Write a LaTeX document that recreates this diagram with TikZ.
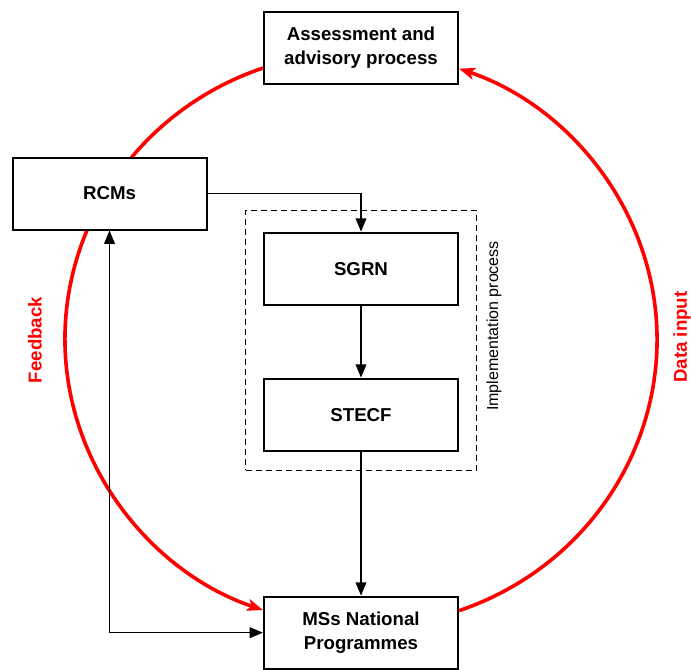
\documentclass[tikz,border=0pt]{standalone}
\usepackage{fontspec}
\setmainfont{Liberation Sans}
\usepackage{tikz}
\usetikzlibrary{arrows.meta,positioning,fit,backgrounds}

\tikzset{
    box/.style={draw, fill=white, line width=1.5pt, minimum width=145.5pt, minimum height=54pt,
        align=center, font=\fontsize{14}{18}\selectfont\bfseries},
    redline/.style={draw=red, line width=2.7pt, -{Stealth[length=12pt,width=9pt,inset=3pt]}},
    side/.style={text=red, rotate=90, inner sep=1pt, font=\fontsize{14}{18}\selectfont\bfseries}
}

\begin{document}
\begin{tikzpicture}[x=0.75pt, y=0.75pt, >={Triangle[length=10pt,width=8pt]}, line width=1.2pt]
    \useasboundingbox (0,0) rectangle (691,669);

    % Nodes {assess, rcms, sgrn, stecf, msnp}
    \node [box] (assess) at (361,621)         {Assessment and\\advisory process};
    \node [box] (rcms)   at (109.5,475.5)     {RCMs};
    \node [box] (sgrn)   [below=110pt of assess] {SGRN};
    \node [box] (stecf)  [below=54pt of sgrn]    {STECF};
    \node [box] (msnp)   [below=108pt of stecf]  {MSs National\\Programmes};

    % Implementation box and labels
    \node [draw, dashed, dash pattern=on 4.5pt off 3pt, line width=0.8pt,
           inner xsep=13pt, inner ysep=15pt, yshift=1.2pt, fit=(sgrn)(stecf)] (impl) {};
    \node [rotate=90, font=\fontsize{12}{14}\selectfont] (impltxt) at (494,343) {Implementation process};
    \node [side] (fb) at (35,329)  {Feedback};
    \node [side] (di) at (682,332) {Data input};

    % Paths
    \draw [->]  (rcms.east) -| (sgrn.north);
    \draw [->]  (sgrn) -- (stecf);
    \draw [->]  (stecf) -- (msnp);
    \draw [<->] (rcms.south) |- (msnp.west);

    % Red cycle
    \begin{scope}[on background layer]
    \draw [redline] ([yshift=-15pt]assess.west) arc[start angle=109.2, delta angle=141.6, x radius=221.25pt, y radius=215.25pt];
    \draw [redline] ([yshift=16.5pt]msnp.east) arc[start angle=-70.8, delta angle=141.6, x radius=221.25pt, y radius=215.25pt];
    \end{scope}
\end{tikzpicture}
\end{document}
